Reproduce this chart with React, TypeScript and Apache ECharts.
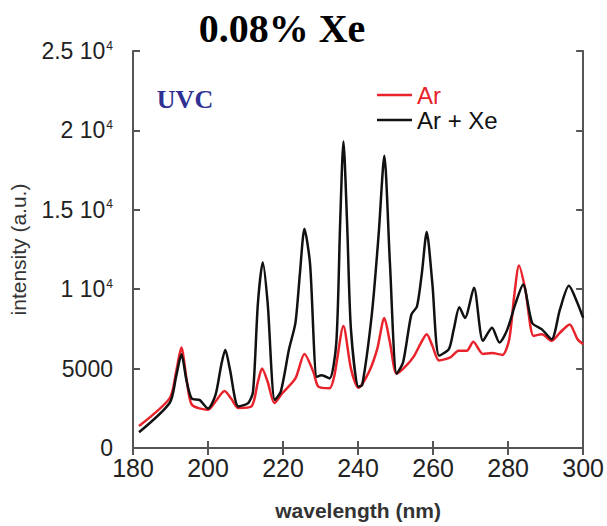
import React, { useEffect, useRef } from "react";
import * as echarts from "echarts";

// Ar + Xe spectrum (wavelength nm, intensity a.u.)
const arXeWavelength = [181.6, 189.8, 191.5, 192.9, 194.3, 195.7, 197.7, 200, 202, 203.5, 204.6, 205.8, 208.1, 210.7, 212, 213.3, 214.6, 215.9, 217.8, 219.4, 221.6, 223.3, 224.5, 225.7, 227.2, 229, 230.3, 232.4, 234.2, 235.2, 236.1, 237.1, 238.1, 240.1, 241.1, 243.7, 245.5, 247, 248.5, 250.3, 252, 254.2, 255.7, 257, 258.3, 259.8, 261.6, 264.2, 265.5, 267, 268.5, 270.9, 273.3, 275.7, 277.7, 279.8, 282, 284, 286.4, 289, 291.6, 293.8, 296.2, 298.5, 300];
const arXeIntensity = [990, 2850, 4500, 5900, 4200, 3100, 3030, 2480, 3340, 5200, 6190, 5000, 2620, 2830, 3550, 9120, 11700, 9120, 3030, 3550, 6230, 7880, 11000, 13800, 11600, 4480, 4580, 4380, 6640, 14000, 19300, 14000, 7470, 3860, 3960, 8500, 13500, 18400, 11600, 4680, 5400, 8400, 8910, 11000, 13600, 10360, 5820, 6230, 7470, 8870, 8190, 10090, 6750, 7570, 6640, 7470, 9120, 10290, 7880, 7470, 6850, 8710, 10210, 9120, 8190];

// Ar spectrum
const arWavelength = [181.6, 189.8, 191.5, 192.9, 194.3, 195.7, 200, 202, 204.4, 206.2, 208.1, 211.6, 213.3, 214.4, 215.9, 217.7, 219.8, 223.3, 225.7, 228.1, 229.4, 232.4, 233.7, 236.1, 238.1, 240.1, 242.9, 245.1, 247, 248.5, 250.3, 252.9, 255, 256.8, 258.3, 259.8, 261.6, 264.6, 266.8, 269, 270.7, 273.3, 275.7, 278.5, 280.3, 281.6, 282.9, 284.6, 286.8, 289, 291.6, 293.8, 296.4, 298.5, 300];
const arIntensity = [1380, 3140, 4800, 6330, 4300, 2720, 2410, 2930, 3590, 3100, 2520, 2620, 4170, 5000, 4170, 2830, 3450, 4380, 5920, 4790, 3860, 3760, 4580, 7680, 5000, 3800, 4790, 6230, 8190, 6640, 4680, 5200, 5820, 6640, 7160, 6440, 5510, 5710, 6130, 6130, 6690, 5920, 5980, 5860, 6850, 9530, 11490, 9950, 7060, 7160, 6750, 7260, 7780, 6850, 6540];

const seriesNames = ["Ar", "Ar + Xe"];
const titleText = "0.08% Xe";
const bandLabel = "UVC";
const xAxisName = "wavelength (nm)";
const yAxisName = "intensity (a.u.)";

const FONT = "'Liberation Sans', Arial, sans-serif";

export default function App() {
  const ref = useRef<HTMLDivElement>(null);
  useEffect(() => {
    if (!ref.current) return;
    const chart = echarts.init(ref.current, null, { renderer: "svg" });
    const pairs = (xs: number[], ys: number[]) => xs.map((x, i) => [x, ys[i]]);
    const axisLineStyle = { color: "#555", width: 2 };
    const yFormatter = (v: number) => {
      if (v === 0) return "0";
      if (v === 5000) return "5000";
      return `${v / 10000} 10{s|4}`;
    };
    chart.setOption({
      animation: false,
      backgroundColor: "#fff",
      grid: { left: 129, right: 18, top: 51, bottom: 72 },
      legend: {
        orient: "vertical",
        left: 372,
        top: 78,
        itemWidth: 35,
        itemHeight: 2.5,
        itemGap: 1,
        icon: "rect",
        textStyle: { fontFamily: FONT, fontSize: 24 },
        data: [
          { name: seriesNames[0], textStyle: { color: "#e8232b" } },
          { name: seriesNames[1], textStyle: { color: "#111" } },
        ],
      },
      graphic: [
        {
          type: "text",
          x: 282,
          y: 28,
          style: {
            text: titleText,
            fontFamily: "'Liberation Serif', 'Times New Roman', serif",
            fontWeight: "bold",
            fontSize: 40,
            fill: "#000",
            textAlign: "center",
            textVerticalAlign: "middle",
          },
        },
        {
          type: "text",
          x: 185,
          y: 99,
          style: {
            text: bandLabel,
            fontFamily: "'Liberation Serif', 'Times New Roman', serif",
            fontWeight: "bold",
            fontSize: 26,
            fill: "#2e3192",
            textAlign: "center",
            textVerticalAlign: "middle",
          },
        },
      ],
      xAxis: [
        {
          type: "value",
          min: 180,
          max: 300,
          interval: 20,
          position: "bottom",
          name: xAxisName,
          nameLocation: "middle",
          nameGap: 52,
          nameTextStyle: { fontFamily: FONT, fontWeight: "bold", fontSize: 21, color: "#333" },
          axisLine: { show: true, lineStyle: axisLineStyle },
          axisTick: { show: true, inside: true, length: 7, lineStyle: axisLineStyle },
          axisLabel: { fontFamily: FONT, fontSize: 25, color: "#222", margin: 7 },
          splitLine: { show: false },
        },
        {
          type: "value",
          min: 180,
          max: 300,
          interval: 20,
          position: "top",
          axisLine: { show: true, lineStyle: axisLineStyle },
          axisTick: { show: true, inside: true, length: 7, lineStyle: axisLineStyle },
          axisLabel: { show: false },
          splitLine: { show: false },
        },
      ],
      yAxis: [
        {
          type: "value",
          min: 0,
          max: 25000,
          interval: 5000,
          position: "left",
          name: yAxisName,
          nameLocation: "middle",
          nameGap: 104,
          nameTextStyle: { fontFamily: FONT, fontSize: 21, color: "#333" },
          axisLine: { show: true, lineStyle: axisLineStyle },
          axisTick: { show: true, inside: true, length: 7, lineStyle: axisLineStyle },
          axisLabel: {
            fontFamily: FONT,
            fontSize: 23,
            color: "#222",
            margin: 20,
            formatter: yFormatter,
            rich: {
              s: { fontFamily: FONT, fontSize: 12, color: "#222", verticalAlign: "top", padding: [0, 0, 10, 1] },
            },
          },
          splitLine: { show: false },
        },
        {
          type: "value",
          min: 0,
          max: 25000,
          interval: 5000,
          position: "right",
          axisLine: { show: true, lineStyle: axisLineStyle },
          axisTick: { show: true, inside: true, length: 7, lineStyle: axisLineStyle },
          axisLabel: { show: false },
          splitLine: { show: false },
        },
      ],
      series: [
        {
          name: seriesNames[0],
          type: "line",
          data: pairs(arWavelength, arIntensity),
          showSymbol: false,
          smooth: 0.25,
          lineStyle: { color: "#e8232b", width: 2.5 },
          itemStyle: { color: "#e8232b" },
        },
        {
          name: seriesNames[1],
          type: "line",
          data: pairs(arXeWavelength, arXeIntensity),
          showSymbol: false,
          smooth: 0.25,
          lineStyle: { color: "#111", width: 2.5 },
          itemStyle: { color: "#111" },
        },
      ],
    });
    return () => chart.dispose();
  }, []);
  return <div ref={ref} style={{ position: "fixed", left: 0, top: 0, width: 607, height: 526 }} />;
}
